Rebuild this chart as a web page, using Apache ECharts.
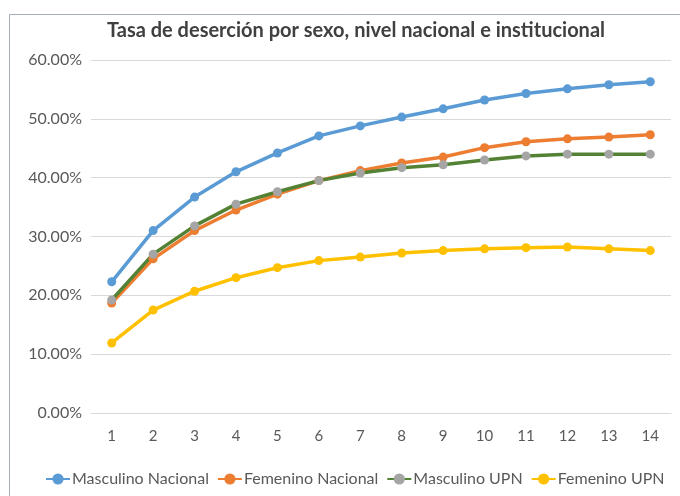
<!DOCTYPE html>
<html>
<head>
<meta charset="utf-8">
<script src="https://cdn.jsdelivr.net/npm/echarts@6/dist/echarts.min.js"></script>
<style>
html,body{margin:0;padding:0;background:#fff;}
#chart{width:680px;height:496px;}
</style>
</head>
<body>
<div id="chart"></div>
<script>
// valores (porcentaje)
var periodos = ['1','2','3','4','5','6','7','8','9','10','11','12','13','14'];
var masculinoNacional = [22.3,31.0,36.7,41.0,44.2,47.1,48.8,50.3,51.7,53.2,54.3,55.1,55.8,56.3];
var femeninoNacional = [18.7,26.2,31.0,34.5,37.2,39.5,41.2,42.5,43.5,45.1,46.1,46.6,46.9,47.3];
var masculinoUPN = [19.2,27.0,31.8,35.5,37.6,39.5,40.8,41.7,42.2,43.0,43.7,44.0,44.0,44.0];
var femeninoUPN = [11.9,17.5,20.7,23.0,24.7,25.9,26.5,27.2,27.6,27.9,28.1,28.2,27.9,27.6];

var chart = echarts.init(document.getElementById('chart'));

function serie(name, data, color, lineColor){
    return {
        name: name,
        type: 'line',
        data: data,
        symbol: 'circle',
        symbolSize: 9,
        itemStyle: {color: color},
        lineStyle: {width: 3.5, color: lineColor || color},
        z: 3
    };
}

var option = {
    animation: false,
    title: {
        text: 'Tasa de deserción por sexo, nivel nacional e institucional',
        left: 351,
        textAlign: 'center',
        top: 16,
        textStyle: {fontFamily: 'Lato', fontSize: 20, fontWeight: 'bold', color: '#404040'}
    },
    graphic: [{
        type: 'rect',
        shape: {x: 9.5, y: 14.5, width: 700, height: 500},
        style: {fill: 'none', stroke: '#a6adb8', lineWidth: 1},
        silent: true
    }],
    legend: {
        top: 466,
        left: 40,
        itemWidth: 24,
        itemHeight: 14,
        itemGap: 8,
        textStyle: {fontFamily: 'Lato', fontSize: 16, color: '#595959', padding: [0, 0, 0, -3]},
        data: ['Masculino Nacional','Femenino Nacional','Masculino UPN','Femenino UPN']
    },
    grid: {left: 91, right: 9, top: 60, bottom: 83},
    xAxis: {
        type: 'category',
        data: periodos,
        axisLine: {lineStyle: {color: '#d9d9d9'}},
        axisTick: {show: false},
        axisLabel: {fontFamily: 'Lato', fontSize: 15, color: '#595959', margin: 16}
    },
    yAxis: {
        type: 'value',
        min: 0,
        max: 60,
        interval: 10,
        axisLine: {show: false},
        axisTick: {show: false},
        splitLine: {lineStyle: {color: '#d9d9d9'}},
        axisLabel: {
            fontFamily: 'Lato', fontSize: 16, color: '#595959', margin: 9,
            formatter: function(v){ return v.toFixed(2) + '%'; }
        }
    },
    series: [
        serie('Masculino Nacional', masculinoNacional, '#5b9bd5'),
        serie('Femenino Nacional', femeninoNacional, '#ed7d31'),
        serie('Masculino UPN', masculinoUPN, '#a5a5a5', '#548235'),
        serie('Femenino UPN', femeninoUPN, '#ffc000')
    ]
};

chart.setOption(option);
</script>
</body>
</html>
